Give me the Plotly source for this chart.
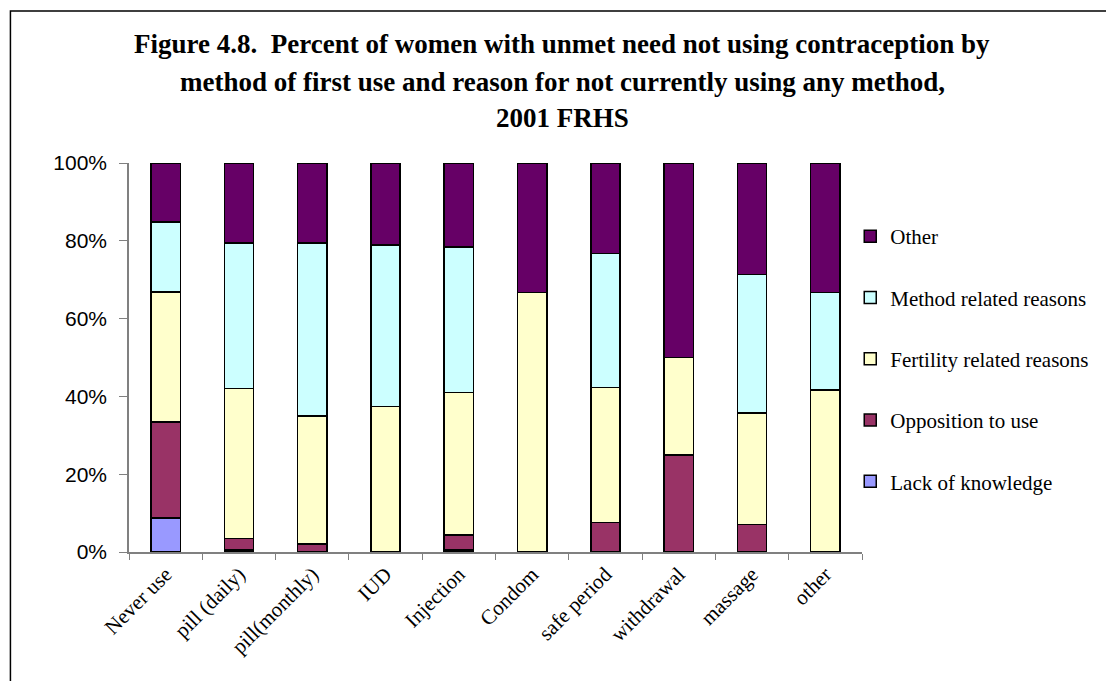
import plotly.graph_objects as go

categories = ["Never use", "pill (daily)", "pill(monthly)", "IUD", "Injection",
              "Condom", "safe period", "withdrawal", "massage", "other"]
lack_of_knowledge = [8.8, 0.5, 0, 0, 0.5, 0, 0, 0, 0, 0]
opposition_to_use = [24.6, 3.0, 2.1, 0, 3.9, 0, 7.6, 25.0, 7.1, 0]
fertility_related = [33.5, 38.5, 32.8, 37.4, 36.6, 66.7, 34.7, 25.0, 28.6, 41.7]
method_related = [17.9, 37.4, 44.5, 41.5, 37.4, 0, 34.5, 0, 35.7, 25.0]
other_reasons = [15.2, 20.6, 20.6, 21.1, 21.6, 33.3, 23.2, 50.0, 28.6, 33.3]

y_tick_values = [0, 20, 40, 60, 80, 100]
y_tick_labels = ["0%", "20%", "40%", "60%", "80%", "100%"]

series = [
    ("Lack of knowledge", lack_of_knowledge, "#9999FF"),
    ("Opposition to use", opposition_to_use, "#993366"),
    ("Fertility related reasons", fertility_related, "#FFFFCC"),
    ("Method related reasons", method_related, "#CCFFFF"),
    ("Other", other_reasons, "#660066"),
]

W, H = 1106, 681
L, R, T, B = 129, 877, 163, 552

def px(x):
    return (x - L) / (R - L)

def py(y):
    return (B - y) / (B - T)

fig = go.Figure()
n = len(series)
for i, (name, vals, col) in enumerate(series):
    fig.add_trace(go.Bar(
        x=categories,
        y=[v if v else None for v in vals],
        name=name,
        legendgroup=name,
        legendrank=n - i,
        marker=dict(color=col, line=dict(color="black", width=1.5)),
    ))

title_lines = [
    "Figure 4.8.  Percent of women with unmet need not using contraception by",
    "method of first use and reason for not currently using any method,",
    "2001 FRHS",
]
title_y = [44, 82, 118]
annotations = []
for txt, yy in zip(title_lines, title_y):
    annotations.append(dict(
        text="<b>" + txt + "</b>", xref="paper", yref="paper",
        x=px(571), y=py(yy), xanchor="center", yanchor="middle",
        showarrow=False,
        font=dict(family="Liberation Serif", size=27, color="black"),
    ))

fig.update_layout(
    width=W, height=H,
    margin=dict(l=L, r=W - R, t=T, b=H - B, pad=0),
    paper_bgcolor="white", plot_bgcolor="white",
    barmode="stack", bargap=0.6,
    showlegend=True,
    legend=dict(
        x=px(865), y=py(216), xanchor="left", yanchor="top",
        traceorder="grouped", tracegroupgap=31,
        font=dict(family="Liberation Serif", size=21, color="black"),
        bgcolor="rgba(0,0,0,0)",
    ),
    annotations=annotations,
    shapes=[dict(type="rect", xref="paper", yref="paper",
                 x0=px(8), x1=px(1150), y0=py(740), y1=py(11),
                 line=dict(color="black", width=1.5), fillcolor="rgba(0,0,0,0)",
                 layer="below")],
    xaxis=dict(
        showline=True, linecolor="#808080", linewidth=1.5,
        ticks="outside", tickson="boundaries", ticklen=6, tickcolor="#808080",
        tickangle=-45, showgrid=False,
        tickfont=dict(family="Liberation Serif", size=21, color="black"),
    ),
    yaxis=dict(
        range=[0, 100], tickmode="array",
        tickvals=y_tick_values, ticktext=y_tick_labels,
        showline=True, linecolor="#808080", linewidth=1.5,
        ticks="outside", ticklen=8, tickcolor="#808080",
        ticklabelstandoff=8,
        showgrid=False, zeroline=False,
        tickfont=dict(family="Liberation Sans", size=21, color="black"),
    ),
)

fig.write_html("out.html")
